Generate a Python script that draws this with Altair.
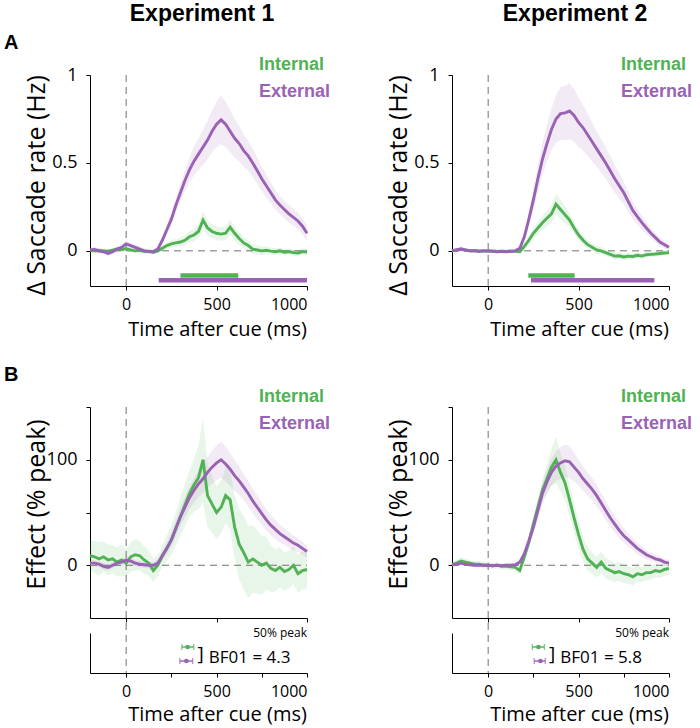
import altair as alt
import pandas as pd

# ---------------------------------------------------------------- data
TIME = list(range(-200, 1001, 25))

# Experiment 1: change in saccade rate (Hz)
exp1_rate_internal = [0.005, 0.0, 0.002, 0.0, -0.002, 0.004, 0.01, 0.008, 0.012, 0.005, 0.0, 0.003, -0.002,
                      -0.003, -0.008, 0.0, 0.015, 0.03, 0.04, 0.045, 0.05, 0.06, 0.08, 0.09, 0.11, 0.175,
                      0.13, 0.11, 0.10, 0.095, 0.10, 0.135, 0.10, 0.07, 0.045, 0.03, 0.01, 0.005, 0.0, 0.003,
                      -0.002, -0.005, 0.0, -0.008, -0.004, -0.01, -0.012, -0.004, -0.006]
exp1_rate_internal_sem = [0.014, 0.013, 0.012, 0.012, 0.013, 0.012, 0.012, 0.013, 0.012, 0.012, 0.012, 0.013,
                          0.012, 0.012, 0.013, 0.014, 0.016, 0.018, 0.02, 0.022, 0.025, 0.028, 0.03, 0.035,
                          0.04, 0.05, 0.045, 0.04, 0.038, 0.038, 0.04, 0.042, 0.04, 0.036, 0.032, 0.03, 0.028,
                          0.026, 0.024, 0.022, 0.02, 0.02, 0.019, 0.019, 0.018, 0.018, 0.018, 0.018, 0.018]
exp1_rate_external = [0.005, 0.008, 0.0, -0.005, -0.015, -0.005, 0.01, 0.02, 0.04, 0.03, 0.02, 0.01, 0.0,
                      -0.003, -0.005, 0.01, 0.06, 0.12, 0.18, 0.26, 0.33, 0.40, 0.46, 0.51, 0.55, 0.59, 0.63,
                      0.68, 0.72, 0.745, 0.72, 0.68, 0.64, 0.61, 0.57, 0.54, 0.50, 0.455, 0.41, 0.37, 0.33,
                      0.29, 0.26, 0.235, 0.21, 0.19, 0.17, 0.14, 0.10]
exp1_rate_external_sem = [0.016, 0.015, 0.015, 0.014, 0.015, 0.016, 0.015, 0.014, 0.015, 0.015, 0.014, 0.015,
                          0.016, 0.015, 0.015, 0.018, 0.022, 0.028, 0.035, 0.042, 0.05, 0.06, 0.07, 0.08, 0.09,
                          0.10, 0.11, 0.12, 0.13, 0.14, 0.13, 0.12, 0.11, 0.10, 0.09, 0.085, 0.08, 0.075, 0.07,
                          0.065, 0.06, 0.055, 0.05, 0.05, 0.05, 0.048, 0.046, 0.045, 0.045]

# Experiment 2: change in saccade rate (Hz)
exp2_rate_internal = [0.0, 0.005, 0.01, 0.004, 0.0, 0.002, -0.002, 0.0, -0.002, 0.0, -0.003, -0.002, -0.004,
                      -0.002, -0.003, -0.005, 0.025, 0.06, 0.10, 0.13, 0.16, 0.185, 0.21, 0.265, 0.235, 0.205,
                      0.175, 0.13, 0.09, 0.06, 0.035, 0.02, 0.005, 0.0, -0.01, -0.02, -0.03, -0.028, -0.035,
                      -0.03, -0.032, -0.025, -0.03, -0.022, -0.02, -0.018, -0.015, -0.012, -0.01]
exp2_rate_internal_sem = [0.01, 0.011, 0.012, 0.011, 0.01, 0.01, 0.01, 0.01, 0.01, 0.01, 0.01, 0.01, 0.01,
                          0.01, 0.01, 0.012, 0.018, 0.024, 0.03, 0.035, 0.04, 0.045, 0.05, 0.06, 0.055, 0.05,
                          0.04, 0.035, 0.03, 0.027, 0.025, 0.023, 0.022, 0.021, 0.02, 0.02, 0.02, 0.019, 0.019,
                          0.018, 0.018, 0.017, 0.017, 0.016, 0.016, 0.015, 0.015, 0.015, 0.015]
exp2_rate_external = [0.0, 0.005, 0.01, 0.005, 0.0, 0.0, -0.002, 0.0, 0.0, -0.003, -0.005, -0.003, -0.005,
                      -0.002, 0.0, 0.015, 0.08, 0.18, 0.29, 0.41, 0.52, 0.61, 0.69, 0.75, 0.78, 0.785, 0.795,
                      0.77, 0.73, 0.70, 0.66, 0.62, 0.58, 0.54, 0.50, 0.455, 0.41, 0.37, 0.33, 0.28, 0.23,
                      0.195, 0.16, 0.13, 0.10, 0.075, 0.05, 0.035, 0.02]
exp2_rate_external_sem = [0.01, 0.011, 0.012, 0.011, 0.01, 0.01, 0.01, 0.01, 0.01, 0.01, 0.01, 0.01, 0.01,
                          0.01, 0.011, 0.015, 0.022, 0.04, 0.06, 0.075, 0.09, 0.105, 0.12, 0.135, 0.15, 0.155,
                          0.16, 0.15, 0.14, 0.13, 0.12, 0.11, 0.10, 0.095, 0.09, 0.085, 0.08, 0.072, 0.065,
                          0.058, 0.05, 0.045, 0.04, 0.035, 0.03, 0.027, 0.024, 0.022, 0.02]

# Experiment 1: effect as % of its own peak
exp1_pct_internal = [9, 8, 6, 8, 5, 6, 3, 5, 2, 8, 10, 9, 5, 2, -5, 0, 9, 16, 24, 35, 46, 57, 68, 76, 83,
                     100, 66, 58, 50, 55, 66, 62, 36, 20, 12, 3, 6, 3, 0, 2, -3, -5, -2, -6, -4, 0, -8, -5, -4]
exp1_pct_internal_sem = [14, 15, 16, 14, 15, 13, 14, 15, 13, 14, 15, 14, 13, 12, 11, 10, 10, 12, 14, 16, 18,
                         20, 22, 25, 30, 40, 30, 27, 25, 25, 26, 28, 30, 33, 35, 34, 32, 30, 28, 25, 22, 20,
                         19, 18, 18, 18, 18, 18, 18]
exp1_pct_external = [2, 2, 1, -1, -2, 0, 2, 3, 5, 4, 2, 1, 0.5, 0, 0, 2, 9, 16, 24, 35, 46, 55, 64, 71, 77,
                     82, 88, 93, 97, 100, 96, 91, 85, 80, 74, 68, 61, 55, 49, 43, 38, 34, 30, 27, 24, 21, 19,
                     16, 13]
exp1_pct_external_sem = [3.2, 3.0, 2.9, 3.1, 3.3, 3.0, 2.8, 3.0, 3.1, 3.0, 2.9, 3.0, 3.1, 3.0, 3.2, 3.5, 4.5,
                         5.5, 6.5, 7.5, 8.5, 9.5, 10.5, 11.5, 12.5, 13.5, 14.5, 15.5, 16.5, 17, 16.5, 15.5,
                         14.5, 13.5, 12.5, 12, 11.5, 11, 10.5, 10, 9.5, 9, 8.5, 8, 7.5, 7, 6.5, 6.2, 6]

# Experiment 2: effect as % of its own peak
exp2_pct_internal = [0, 2, 4, 3, 2, 1, 1, 0, 0, -0.5, 0, -1, -1, -1.5, -2, -5, 8, 22, 39, 55, 71, 82, 93,
                     100, 88, 78, 62, 45, 29, 15, 6, 2, -2, 3, -3, -5, -7, -6, -8, -9, -11, -8, -9, -7, -7,
                     -5, -6, -4, -3]
exp2_pct_internal_sem = [3, 3.2, 3.5, 3.2, 3, 3, 3, 3, 3, 3, 3, 3, 3, 3, 3.2, 3.5, 5, 6.5, 8, 9, 10, 13, 17,
                         22, 18, 16, 15, 14, 13, 12, 11, 10, 10, 10, 10, 9.5, 9, 9, 9, 8.5, 8, 7.5, 7, 7, 6.5,
                         6.5, 6, 6, 6]
exp2_pct_external = [1, 1, 2, 1, 0.5, 0, 0, 0, 0, -0.5, 0, -0.5, 0, 0, 0.5, 3, 11, 23, 36, 52, 68, 79, 88,
                     94, 97, 99, 98, 93, 88, 82, 77, 72, 66, 59, 52, 45, 39, 33, 28, 24, 20, 16, 13, 10, 8,
                     6, 5, 3, 2]
exp2_pct_external_sem = [1.6, 1.5, 1.7, 1.5, 1.4, 1.5, 1.5, 1.4, 1.5, 1.5, 1.4, 1.5, 1.5, 1.5, 1.6, 2, 3, 4.5,
                         6, 8, 10, 11.5, 13, 14, 15, 15.5, 15, 13.5, 12, 11.5, 11, 10.5, 10, 9.5, 9, 8.5, 8,
                         7.5, 7, 6.5, 6, 5.5, 5, 4.5, 4, 3.7, 3.4, 3.2, 3]

# Significant clusters (ms): start, end
exp1_cluster_internal = [300, 620]
exp1_cluster_external = [180, 1000]
exp2_cluster_internal = [222, 478]
exp2_cluster_external = [237, 919]

# Latency to 50% of peak (ms): mean, lower, upper
exp1_half_internal = [340, 308, 374]
exp1_half_external = [333, 297, 368]
exp2_half_internal = [278, 244, 311]
exp2_half_external = [289, 255, 316]
bf01 = [4.3, 5.8]

# ---------------------------------------------------------------- style
GREEN = "#50b254"
PURPLE = "#9a62b5"
DASH = "#707070"
FONT = "Open Sans"
BOLD_FONT = "Liberation Sans"

W = 217          # plot width
HA = 211         # saccade-rate panel height
HB_MAIN = 211    # normalised panel height
HB = 266         # normalised panel + latency strip
STRIP_TOP = 226  # top of the latency strip

COLOR = alt.Color("cond:N", scale=alt.Scale(domain=["Internal", "External"], range=[GREEN, PURPLE]),
                  legend=None)


def curve_frame(mean, sem, cond):
    return pd.DataFrame({
        "t": TIME,
        "v": mean,
        "lo": [m - s for m, s in zip(mean, sem)],
        "hi": [m + s for m, s in zip(mean, sem)],
        "cond": cond,
    })


def label_layers(x_left, y_top, letter=None, title=None, title_x=None):
    layers = [
        alt.Chart().mark_text(text="Internal", color=GREEN, font=BOLD_FONT, fontWeight="bold",
                              fontSize=18, align="left", baseline="alphabetic")
        .encode(x=alt.value(x_left), y=alt.value(y_top)),
        alt.Chart().mark_text(text="External", color=PURPLE, font=BOLD_FONT, fontWeight="bold",
                              fontSize=18, align="left", baseline="alphabetic")
        .encode(x=alt.value(x_left), y=alt.value(y_top + 27)),
    ]
    if letter:
        layers.append(
            alt.Chart().mark_text(text=letter, font=BOLD_FONT, fontWeight="bold", fontSize=20,
                                  align="left", baseline="alphabetic", color="black")
            .encode(x=alt.value(-86), y=alt.value(y_top - 21)))
    if title:
        layers.append(
            alt.Chart().mark_text(text=title, font=BOLD_FONT, fontWeight="bold", fontSize=23,
                                  align="center", baseline="alphabetic", color="black")
            .encode(x=alt.value(title_x), y=alt.value(-54)))
    return layers


def rate_panel(internal, internal_sem, external, external_sem, cl_int, cl_ext, title, title_x, letter):
    df = pd.concat([curve_frame(internal, internal_sem, "Internal"),
                    curve_frame(external, external_sem, "External")])
    xs = alt.Scale(domain=[-200, 1000], nice=False)
    ys = alt.Scale(domain=[-0.2, 1], nice=False)
    xaxis = alt.Axis(values=[0, 500, 1000], format="d", title="Time after cue (ms)", titleFontSize=20,
                     titleX=127, titleY=49, titleBaseline="alphabetic", titleAlign="center",
                     labelFontSize=16, tickSize=4, labelPadding=6)
    yaxis = alt.Axis(values=[0, 0.5, 1], format="~g", title="Δ Saccade rate (Hz)", titleFontSize=25,
                     titleX=-46, titleY=110, titleBaseline="alphabetic", titleAngle=-90,
                     titleAlign="center", labelFontSize=18, tickSize=4, labelPadding=9)

    def X(f):
        return alt.X(f, type="quantitative", scale=xs, axis=xaxis)

    def Y(f):
        return alt.Y(f, type="quantitative", scale=ys, axis=yaxis)

    base = alt.Chart(df)
    band = base.mark_area(opacity=0.13).encode(x=X("t"), y=Y("lo"), y2="hi", color=COLOR, detail="cond:N")
    line = base.mark_line(strokeWidth=2.9).encode(x=X("t"), y=Y("v"), color=COLOR, detail="cond:N")

    zero = alt.Chart(pd.DataFrame({"t0": [-200], "t1": [1000], "v": [0]})).mark_rule(
        color=DASH, strokeDash=[7, 5], strokeWidth=1).encode(x=X("t0"), x2="t1", y=Y("v"))
    cue = alt.Chart(pd.DataFrame({"t": [0]})).mark_rule(
        color=DASH, strokeDash=[7, 5], strokeWidth=1).encode(x=X("t"), y=alt.value(0), y2=alt.value(HA))

    clusters = pd.DataFrame({"t0": [cl_int[0], cl_ext[0]], "t1": [cl_int[1], cl_ext[1]],
                             "v": [-0.14, -0.168], "cond": ["Internal", "External"]})
    bars = alt.Chart(clusters).mark_rule(strokeWidth=4.5, strokeCap="butt").encode(
        x=X("t0"), x2="t1", y=Y("v"), color=COLOR)

    return alt.layer(band, zero, cue, line, bars,
                     *label_layers(169, -5, letter, title, title_x)).properties(width=W, height=HA)


def effect_panel(internal, internal_sem, external, external_sem, half_int, half_ext, bf, letter):
    df = pd.concat([curve_frame(internal, internal_sem, "Internal"),
                    curve_frame(external, external_sem, "External")])
    xs = alt.Scale(domain=[-200, 1000], nice=False)
    ys = alt.Scale(domain=[-50, 150], range=[HB_MAIN, 0], nice=False)
    xaxis = alt.Axis(values=[0, 500, 1000], orient="bottom", offset=HB_MAIN - HB, labels=False,
                     title=None, tickSize=4)
    yaxis = alt.Axis(values=[0, 50, 100, 150], format="d", title="Effect (% peak)", titleFontSize=25,
                     titleX=-46, titleY=97, titleBaseline="alphabetic", titleAngle=-90,
                     titleAlign="center", labelFontSize=18, tickSize=4, labelPadding=9,
                     labelExpr="datum.value == 0 || datum.value == 100 ? datum.label : ''")

    def X(f):
        return alt.X(f, type="quantitative", scale=xs, axis=xaxis)

    def Y(f):
        return alt.Y(f, type="quantitative", scale=ys, axis=yaxis)

    base = alt.Chart(df)
    band = base.mark_area(opacity=0.13).encode(x=X("t"), y=Y("lo"), y2="hi", color=COLOR, detail="cond:N")
    line = base.mark_line(strokeWidth=2.9).encode(x=X("t"), y=Y("v"), color=COLOR, detail="cond:N")
    zero = alt.Chart(pd.DataFrame({"t0": [-200], "t1": [1000], "v": [0]})).mark_rule(
        color=DASH, strokeDash=[7, 5], strokeWidth=1).encode(x=X("t0"), x2="t1", y=Y("v"))
    cue = alt.Chart(pd.DataFrame({"t": [0]})).mark_rule(
        color=DASH, strokeDash=[7, 5], strokeWidth=1).encode(x=X("t"), y=alt.value(0), y2=alt.value(HB))

    main = alt.layer(band, zero, cue, line, *label_layers(169, -5, letter))

    # latency strip: 50%-of-peak latency with its interval
    xs2 = alt.Scale(domain=[-200, 1000], nice=False)
    ys2 = alt.Scale(domain=[0, 1], range=[HB, STRIP_TOP], nice=False)
    xaxis2 = alt.Axis(values=[0, 250, 500, 750, 1000], format="d", orient="bottom",
                      title="Time after cue (ms)", titleFontSize=20, titleX=127, titleY=47,
                      titleBaseline="alphabetic", titleAlign="center", labelFontSize=16, tickSize=4,
                      labelPadding=6, labelExpr="datum.value % 500 == 0 ? datum.label : ''")
    yaxis2 = alt.Axis(orient="left", ticks=False, labels=False, title=None)

    def X2(f):
        return alt.X(f, type="quantitative", scale=xs2, axis=xaxis2)

    def Y2(f):
        return alt.Y(f, type="quantitative", scale=ys2, axis=yaxis2)

    lat = pd.DataFrame({"cond": ["Internal", "External"],
                        "m": [half_int[0], half_ext[0]],
                        "lo": [half_int[1], half_ext[1]],
                        "hi": [half_int[2], half_ext[2]],
                        "pos": [0.65, 0.3]})
    bracket_t = max(half_int[2], half_ext[2]) + 38
    notes = pd.DataFrame({"tb": [bracket_t], "pb": [0.47], "tt": [bracket_t + 45], "pt": [0.38],
                          "label": [f"BF01 = {bf}"], "tp": [1000], "pp": [0.9]})

    lb = alt.Chart(lat)
    err = lb.mark_rule(strokeWidth=1.4).encode(x=X2("lo"), x2="hi", y=Y2("pos"), color=COLOR)
    cap_lo = lb.mark_tick(orient="vertical", size=6, thickness=1.3).encode(x=X2("lo"), y=Y2("pos"), color=COLOR)
    cap_hi = lb.mark_tick(orient="vertical", size=6, thickness=1.3).encode(x=X2("hi"), y=Y2("pos"), color=COLOR)
    dot = lb.mark_circle(size=22, opacity=1).encode(x=X2("m"), y=Y2("pos"), color=COLOR)

    nb = alt.Chart(notes)
    bracket = nb.mark_text(text="]", font=FONT, fontSize=19, align="center", baseline="middle",
                           color="black").encode(x=X2("tb"), y=Y2("pb"))
    bf_text = nb.mark_text(font=FONT, fontSize=17, align="left", baseline="middle",
                           color="black").encode(x=X2("tt"), y=Y2("pt"), text="label:N")
    peak_note = nb.mark_text(text="50% peak", font=FONT, fontSize=12, align="right",
                             baseline="alphabetic", color="black").encode(x=X2("tp"), y=Y2("pp"))

    strip = alt.layer(err, cap_lo, cap_hi, dot, bracket, bf_text, peak_note)

    return alt.layer(main, strip).resolve_scale(x="independent", y="independent").properties(
        width=W, height=HB)


a1 = rate_panel(exp1_rate_internal, exp1_rate_internal_sem, exp1_rate_external, exp1_rate_external_sem,
                exp1_cluster_internal, exp1_cluster_external, "Experiment 1", 112, "A")
a2 = rate_panel(exp2_rate_internal, exp2_rate_internal_sem, exp2_rate_external, exp2_rate_external_sem,
                exp2_cluster_internal, exp2_cluster_external, "Experiment 2", 123, None)
b1 = effect_panel(exp1_pct_internal, exp1_pct_internal_sem, exp1_pct_external, exp1_pct_external_sem,
                  exp1_half_internal, exp1_half_external, bf01[0], "B")
b2 = effect_panel(exp2_pct_internal, exp2_pct_internal_sem, exp2_pct_external, exp2_pct_external_sem,
                  exp2_half_internal, exp2_half_external, bf01[1], None)

chart = alt.concat(a1, a2, b1, b2, columns=2, spacing={"row": 121, "column": 145}, bounds="flush").properties(
    autosize=alt.AutoSizeParams(type="none"),
    padding={"left": 90, "top": 75, "right": 700 - 90, "bottom": 728 - 75},
    background="white",
).configure_view(stroke=None).configure_axis(
    grid=False, domainColor="black", tickColor="black", labelColor="black", titleColor="black",
    labelFont=FONT, titleFont=FONT, titleFontWeight="normal", domainWidth=1, tickWidth=1,
)

chart.save("out.html", embed_options={"renderer": "svg", "actions": False})
